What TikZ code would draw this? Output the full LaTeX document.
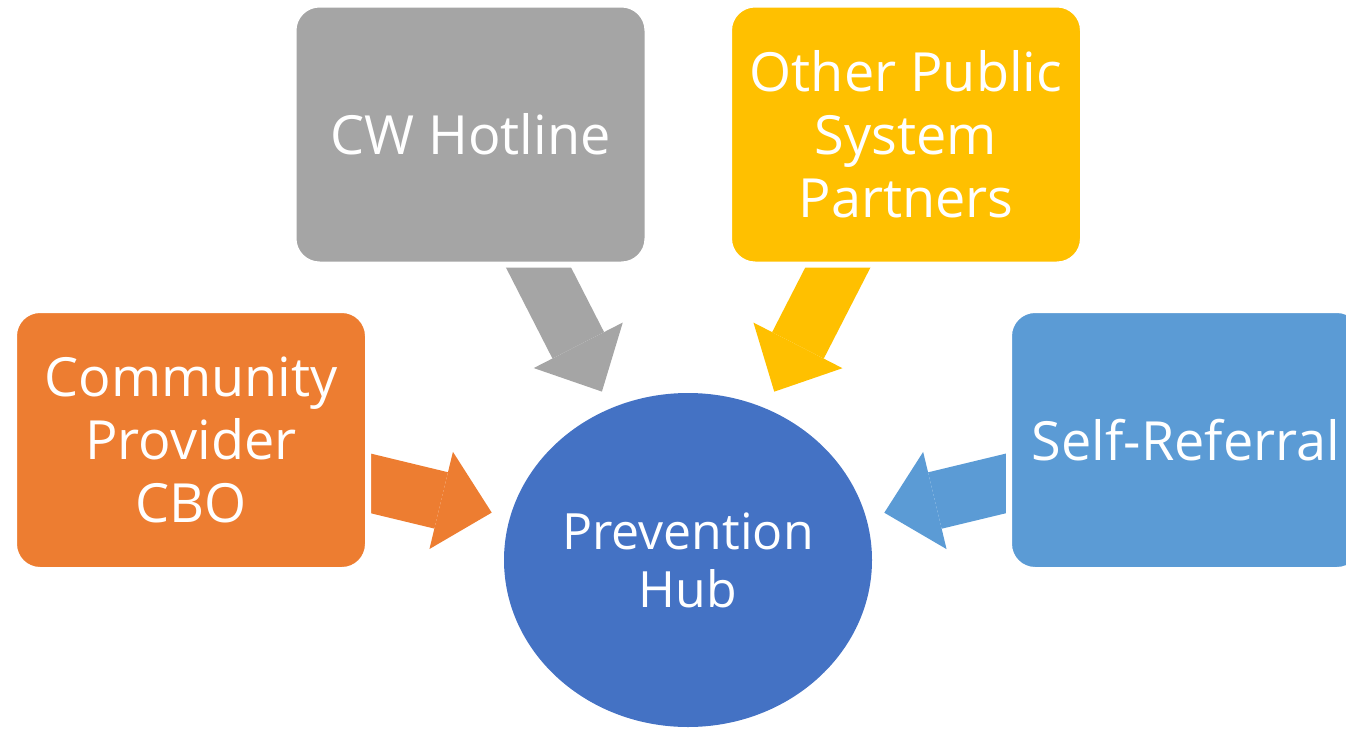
\documentclass[tikz,border=0pt]{standalone}
\usepackage{fontspec}
\setmainfont{Open Sans}
\usetikzlibrary{shapes.geometric,arrows.meta,backgrounds}

\definecolor{cboorange}{HTML}{ED7D31}
\definecolor{hotlinegray}{HTML}{A5A5A5}
\definecolor{partneryellow}{HTML}{FFC000}
\definecolor{selfblue}{HTML}{5B9BD5}
\definecolor{hubblue}{HTML}{4472C4}

\begin{document}
\begin{tikzpicture}[x=1pt, y=-1pt,
    source/.style={rectangle, rounded corners=26pt, draw=white, line width=6pt, text=white, align=center, minimum width=354pt, minimum height=260pt, outer sep=0pt, font=\fontsize{54}{63}\selectfont},
    feed/.style={line width=58pt, -{Triangle[length=52pt, width=100pt, line width=0pt]}, shorten >=19pt}]
    \useasboundingbox (0,0) rectangle (1346,728);

    \node[source, fill=cboorange] (cbo) at (191, 440) {Community\\Provider\\CBO};
    \node[source, fill=hotlinegray] (hotline) at (470.5, 134.5) {CW Hotline};
    \node[source, fill=partneryellow] (partners) at (906, 134.5) {Other Public\\System\\Partners};
    \node[source, fill=selfblue] (self) at (1186, 440) {Self-Referral};
    \node[ellipse, fill=hubblue, minimum width=368pt, minimum height=334pt, inner sep=0pt, outer sep=0pt, text=white, align=center, font=\fontsize{50}{58}\selectfont] (hub) at (688, 560) {Prevention\\Hub};

    \begin{scope}[on background layer]
        \draw[feed, cboorange] (cbo.center) -- (hub);
        \draw[feed, hotlinegray] (hotline.center) -- (hub);
        \draw[feed, partneryellow] (partners.center) -- (hub);
        \draw[feed, selfblue] (self.center) -- (hub);
    \end{scope}
\end{tikzpicture}
\end{document}
